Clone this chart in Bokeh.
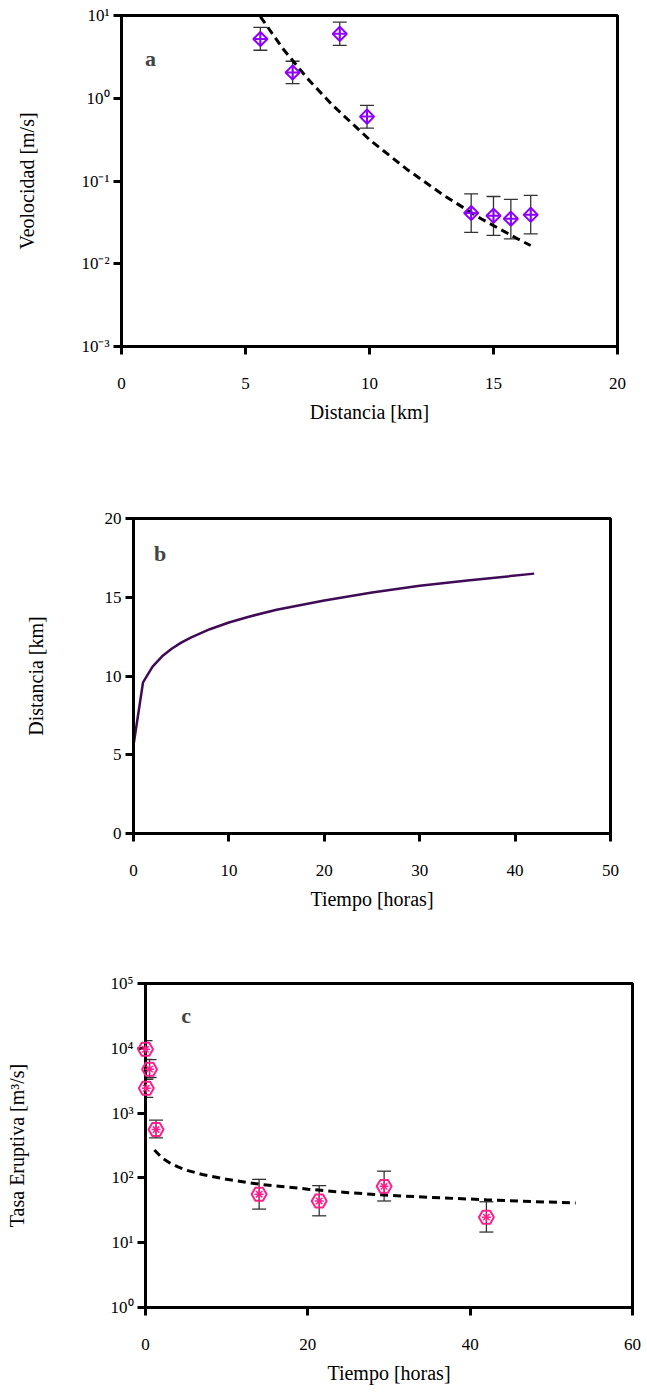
import numpy as np
from bokeh.plotting import figure
from bokeh.models import Whisker, ColumnDataSource, Label, FixedTicker, CustomJSTickFormatter, Range1d, TeeHead
from bokeh.embed import file_html
from bokeh.resources import INLINE

# ---------------- data ----------------
# Panel a: velocity vs distance
a_dist = [5.6, 6.9, 8.8, 9.9, 14.1, 15.0, 15.7, 16.5]
a_vel = [5.2, 2.05, 6.0, 0.60, 0.041, 0.038, 0.035, 0.039]
a_hi = [7.2, 2.8, 8.3, 0.82, 0.070, 0.065, 0.060, 0.067]
a_lo = [3.8, 1.5, 4.35, 0.435, 0.024, 0.022, 0.020, 0.023]
a_fit_dist = [5.6, 6.5, 7.5, 8.5, 10.0, 11.5, 13.0, 14.5, 16.0, 16.5]
a_fit_vel = [9.7, 4.0, 1.73, 0.83, 0.316, 0.139, 0.067, 0.035, 0.0198, 0.0166]

# Panel b: distance vs time
b_time = [0, 1, 2, 3, 4, 5, 6, 8, 10, 12, 15, 20, 25, 30, 35, 42]
b_dist = [5.6, 9.6, 10.6, 11.25, 11.73, 12.12, 12.44, 12.97, 13.4, 13.75, 14.21, 14.8, 15.3, 15.73, 16.06, 16.5]

# Panel c: eruptive rate vs time
c_time = [0.0, 0.5, 0.1, 1.3, 14.0, 21.4, 29.4, 42.0]
c_rate = [9650, 4770, 2420, 557, 56, 44, 74, 24.8]
c_hi = [13150, 6670, 3330, 778, 95, 76, 127, 42.8]
c_lo = [6740, 3540, 1750, 414, 33, 26, 44, 14.6]
c_fit_time = [1.1, 2, 3, 4, 5, 7, 10, 14, 20, 25, 30, 35, 42, 48, 53]
c_fit_rate = [270, 205, 170, 148, 132, 113, 95, 80, 67, 59, 54, 50, 46, 43, 41]

FONT = "Liberation Serif"
W = 647

sup_js = """
const sup = {'-':'\u207b','0':'\u2070','1':'\u00b9','2':'\u00b2','3':'\u00b3','4':'\u2074','5':'\u2075'};
const e = Math.round(Math.log10(tick));
return '10' + String(e).split('').map(c => sup[c]).join('');
"""


def style(p, ylab_standoff):
    p.outline_line_color = "black"
    p.outline_line_width = 3
    p.grid.visible = False
    p.background_fill_color = "white"
    p.border_fill_color = "white"
    for ax in p.axis:
        ax.axis_line_width = 3
        ax.axis_line_color = "black"
        ax.major_tick_line_width = 3
        ax.major_tick_line_color = "black"
        ax.major_tick_out = 8
        ax.major_tick_in = 0
        ax.minor_tick_line_color = None
        ax.major_label_text_font = FONT
        ax.major_label_text_font_size = "17px"
        ax.major_label_text_color = "black"
        ax.axis_label_text_font = FONT
        ax.axis_label_text_font_size = "20px"
        ax.axis_label_text_font_style = "normal"
        ax.axis_label_text_color = "black"
    p.xaxis.major_label_standoff = 23
    p.xaxis.axis_label_standoff = 9
    p.yaxis.major_label_standoff = 4
    p.yaxis.axis_label_standoff = ylab_standoff


def heads():
    return dict(upper_head=TeeHead(size=14, line_color="#333333", line_width=1.3),
                lower_head=TeeHead(size=14, line_color="#333333", line_width=1.3))


# ---------------- panel a ----------------
pa = figure(width=W, height=448, y_axis_type="log", output_backend="svg", toolbar_location=None,
            x_range=Range1d(0, 20), y_range=Range1d(0.001, 10),
            min_border_left=121, min_border_right=30, min_border_top=15, min_border_bottom=102)
style(pa, 40)
pa.xaxis.ticker = FixedTicker(ticks=[0, 5, 10, 15, 20], minor_ticks=[])
pa.yaxis.ticker = FixedTicker(ticks=[0.001, 0.01, 0.1, 1, 10], minor_ticks=[])
pa.yaxis.formatter = CustomJSTickFormatter(code=sup_js)
pa.xaxis.axis_label = "Distancia [km]"
pa.yaxis.axis_label = "Veolocidad [m/s]"

pa.line(a_fit_dist, a_fit_vel, line_color="black", line_width=3, line_dash="8 5")
src_a = ColumnDataSource(dict(x=a_dist, y=a_vel, hi=a_hi, lo=a_lo))
pa.add_layout(Whisker(source=src_a, base="x", upper="hi", lower="lo", line_color="#333333", line_width=1.3,
                      **heads()))
pa.scatter("x", "y", source=src_a, marker="square", angle=np.pi / 4, size=10, fill_color=None,
           line_color="#8B00FF", line_width=2)
pa.scatter("x", "y", source=src_a, marker="cross", size=14, line_color="#8B00FF", line_width=2)
pa.add_layout(Label(x=1.17, y=3.0, text="a", text_font=FONT, text_font_size="22px", text_font_style="bold",
                    text_align="center", text_baseline="middle"))

# ---------------- panel b ----------------
pb = figure(width=W, height=472, output_backend="svg", toolbar_location=None,
            x_range=Range1d(0, 50), y_range=Range1d(0, 20),
            min_border_left=133, min_border_right=37, min_border_top=70, min_border_bottom=87)
style(pb, 55)
pb.xaxis.ticker = FixedTicker(ticks=[0, 10, 20, 30, 40, 50], minor_ticks=[])
pb.yaxis.ticker = FixedTicker(ticks=[0, 5, 10, 15, 20], minor_ticks=[])
pb.xaxis.axis_label = "Tiempo [horas]"
pb.yaxis.axis_label = "Distancia [km]"
pb.line(b_time, b_dist, line_color="#3F0B55", line_width=2.5)
pb.add_layout(Label(x=2.8, y=17.8, text="b", text_font=FONT, text_font_size="22px", text_font_style="bold",
                    text_align="center", text_baseline="middle"))

# ---------------- panel c ----------------
pc = figure(width=W, height=472, y_axis_type="log", output_backend="svg", toolbar_location=None,
            x_range=Range1d(0, 60), y_range=Range1d(1, 1e5),
            min_border_left=145, min_border_right=15, min_border_top=63, min_border_bottom=85)
style(pc, 80)
pc.xaxis.ticker = FixedTicker(ticks=[0, 20, 40, 60], minor_ticks=[])
pc.yaxis.ticker = FixedTicker(ticks=[1, 10, 100, 1000, 10000, 100000], minor_ticks=[])
pc.yaxis.formatter = CustomJSTickFormatter(code=sup_js)
pc.xaxis.axis_label = "Tiempo [horas]"
pc.yaxis.axis_label = "Tasa Eruptiva [m\u00b3/s]"
pc.line(c_fit_time, c_fit_rate, line_color="black", line_width=3, line_dash="8 5")
src_c = ColumnDataSource(dict(x=c_time, y=c_rate, hi=c_hi, lo=c_lo))
pc.add_layout(Whisker(source=src_c, base="x", upper="hi", lower="lo", line_color="#333333", line_width=1.3,
                      **heads()))
pc.scatter("x", "y", source=src_c, marker="hex", size=15, fill_color=None, line_color="#FF1E8C",
           line_width=2, level="overlay")
pc.scatter("x", "y", source=src_c, marker="asterisk", size=9, line_color="#FF1E8C", line_width=1.5,
           level="overlay")
pc.add_layout(Label(x=5.0, y=32000, text="c", text_font=FONT, text_font_size="22px", text_font_style="bold",
                    text_align="center", text_baseline="middle"))

open("out.html", "w").write(file_html([pa, pb, pc], INLINE))
